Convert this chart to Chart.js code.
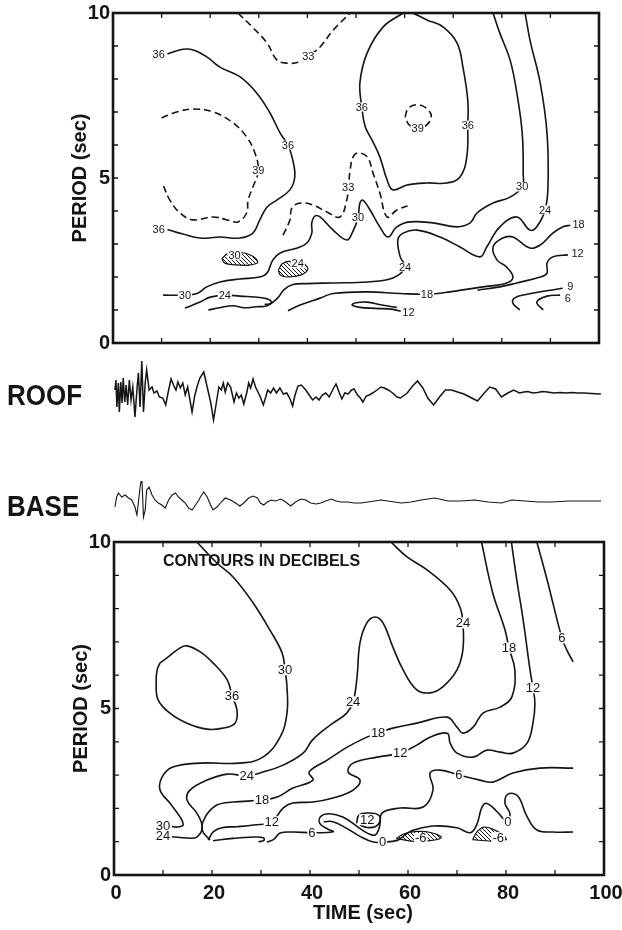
<!DOCTYPE html>
<html>
<head>
<meta charset="utf-8">
<title>Roof / base moving-window spectra</title>
<script src="https://cdn.jsdelivr.net/npm/chart.js@4.4.1/dist/chart.umd.min.js"></script>
<style>
  html, body { margin: 0; padding: 0; background: #fff; }
  #page { position: relative; width: 622px; height: 930px; overflow: hidden; }
  #page canvas { position: absolute; left: 0; }
  .trace-name {
    position: absolute; left: 7px; height: 26px; line-height: 26px;
    font: bold 26px 'Liberation Sans', Arial, sans-serif; color: #141414;
    transform: scaleY(1.16); transform-origin: left center;
  }
</style>
</head>
<body>
<div id="page">
  <canvas id="topPlot" width="622" height="360" style="top:0"></canvas>
  <canvas id="roofPlot" width="622" height="100" style="top:345px"></canvas>
  <canvas id="basePlot" width="622" height="80" style="top:455px"></canvas>
  <canvas id="lowPlot" width="622" height="400" style="top:530px"></canvas>
  <div class="trace-name" style="top:379px">ROOF</div>
  <div class="trace-name" style="top:490px">BASE</div>
</div>
<script>
const INK = "#141414";
const FONT = "'Liberation Sans', Arial, sans-serif";

// ---- axes ----
const timeTicks = [0, 10, 20, 30, 40, 50, 60, 70, 80, 90, 100];
const timeLabels = [0, 20, 40, 60, 80, 100];
const periodTicks = [0, 1, 2, 3, 4, 5, 6, 7, 8, 9, 10];
const periodLabels = [0, 5, 10];

// ---- upper panel contours: [time, period] ----
const up33a = [[25.7,10],[28.5,9.6],[31.7,9.09],[33.7,8.58],[35.8,8.48],[38.5,8.52],[40.1,8.67],[42.6,8.97],[45.3,9.48],[48.8,10]];
const up36a = [[11.2,8.76],[14.4,8.9],[16.5,8.88],[19.3,8.67],[22,8.36],[26.1,8.07],[29.6,7.57],[32.3,6.97],[34.4,6.36],[36,6.0],[37,5.54],[37.4,5.03],[36.4,4.64],[33.7,4.33],[31.7,4.12],[30.2,3.73],[28.8,3.33],[26.1,3.18],[22,3.21],[17.9,3.18],[14.4,3.3],[11.2,3.44]];
const up39a = [[10,6.82],[13.1,7.0],[16.5,7.09],[20.6,7.0],[24.7,6.67],[27.5,6.24],[29.2,5.76],[29.9,5.22],[28.8,4.73],[27.8,4.33],[27.5,3.94],[25.7,3.67],[23.5,3.73],[20.6,3.82],[16.5,3.73],[13.8,3.94],[11.7,4.33],[10.3,4.79]];
const up33b = [[35,3.27],[36.4,3.73],[36.8,4.09],[38.5,4.24],[41.2,4.18],[44,3.97],[46.7,3.82],[48.1,4.33],[48.4,4.7],[48.8,5.24],[49.4,5.64],[50.4,5.76],[52.3,5.64],[53.5,5.15],[54.9,4.55],[56.4,3.82],[58.4,4.03],[61.1,4.18]];
const up36b = [[59.7,10],[55.6,9.58],[52.3,8.79],[50.8,7.88],[51.2,7.15],[51.9,6.55],[53.3,6.15],[54.9,5.64],[56.4,4.94],[57.6,4.64],[60.5,4.79],[64.6,4.85],[68.7,4.85],[71.4,5.03],[72.8,5.64],[73,6.6],[73,7.36],[72,8.36],[70.8,9.09],[67.9,9.58],[64.6,9.79],[61.7,10]];
const up39b = [[60.1,6.85],[60.8,7.12],[62.8,7.22],[64.8,7.07],[65.5,6.85],[64.5,6.6],[62.8,6.5],[61,6.6],[60.1,6.85]];
const up30 = [[10.3,1.45],[14.8,1.45],[17.3,1.5],[19.3,1.7],[22,1.85],[26.1,1.94],[30.2,2.0],[31.7,2.12],[32.9,2.52],[34.4,2.73],[37.9,2.88],[39.9,3.03],[40.9,3.33],[40.9,3.64],[41.6,3.85],[42.6,3.82],[45.3,3.42],[48.1,3.12],[49.2,3.33],[50.4,3.79],[50.8,4.24],[51.4,4.33],[52.9,4.03],[54.9,3.52],[56.6,3.21],[58.4,3.52],[61.1,3.67],[65.8,3.64],[70.8,3.52],[73.5,3.64],[74.9,3.94],[78.2,4.24],[81.7,4.42],[84.2,4.73],[84.4,5.15],[84.2,6.36],[83.1,7.57],[81.7,8.58],[79.6,9.39],[78.2,10]];
const up24a = [[14.8,1.06],[17.9,1.24],[20,1.39],[23,1.45],[26.1,1.42],[30.2,1.38],[32.3,1.3],[32.5,1.2],[31.2,1.17]];
const up24b = [[19.6,1.0],[22,1.07],[24.7,1.13],[27,1.07],[29.5,1.1],[31.7,1.13],[33.8,1.35],[35.2,1.62],[37,1.77],[40,1.8],[45.3,1.82],[52.3,1.85],[57.6,1.97],[60.1,2.3],[59.1,2.61],[58.6,3.12],[59.7,3.33],[62.6,3.42],[67.3,3.21],[71.4,2.91],[75.5,2.61],[76.9,2.91],[79.6,3.52],[83.1,3.82],[85.8,3.42],[87.2,3.52],[88.9,4.03],[89.5,4.73],[89.3,6.36],[87.9,7.88],[85.8,9.18],[84.8,10]];
const up18 = [[36,0.98],[38.5,1.15],[42.6,1.36],[45.3,1.5],[52.3,1.55],[59.1,1.5],[64.6,1.48],[69.3,1.55],[76.1,1.7],[81,1.82],[82.3,2.0],[81,2.3],[79,2.52],[78.2,2.91],[80.2,3.18],[82.3,3.21],[85.8,2.88],[87.9,2.97],[90.5,3.33],[92.6,3.52],[94.1,3.57]];
const up12a = [[58.4,1.08],[55,1.16],[52.3,1.24],[50,1.22],[49.2,1.15],[50.8,1.08],[54,1.05],[57.6,1.02],[59.2,0.96]];
const up12b = [[75,1.6],[79.6,1.7],[83.1,1.82],[87.9,2.0],[89.3,2.12],[89.3,2.42],[90.5,2.61],[93.6,2.67]];
const up9 = [[83.7,1.0],[82.3,1.2],[82.6,1.36],[85,1.47],[90,1.6],[92.5,1.66]];
const up6 = [[88.5,1.0],[87.2,1.24],[89.3,1.42],[92,1.45]];
const upHatch30 = [[22.4,2.55],[23.5,2.7],[26,2.75],[28.5,2.65],[29.8,2.45],[28,2.36],[25,2.37],[23,2.42],[22.4,2.55]];
const upHatch24 = [[34,2.2],[34.8,2.4],[36.5,2.48],[39,2.42],[40.1,2.25],[39,2.08],[36,2.0],[34.5,2.05],[34,2.2]];
const upMarks = [[40.2,8.68,"33"],[9.4,8.74,"36"],[9.4,3.45,"36"],[36,6.0,"36"],[29.9,5.22,"39"],[48.4,4.72,"33"],
  [51.2,7.15,"36"],[73,6.6,"36"],[62.7,6.5,"39"],[14.8,1.45,"30"],[50.4,3.79,"30"],[84.2,4.73,"30"],
  [23,1.45,"24"],[60.1,2.3,"24"],[88.9,4.03,"24"],[64.6,1.48,"18"],[95.8,3.6,"18"],[60.8,0.94,"12"],
  [95.6,2.7,"12"],[94.1,1.7,"9"],[93.6,1.34,"6"],[25,2.66,"30"],[38,2.4,"24"]];

// ---- lower panel contours ----
const lo30 = [[16.9,10],[21,9.37],[24.3,8.95],[28.4,8.17],[31.8,7.36],[34.3,6.67],[34.9,6.16],[35.3,5.65],[35.3,4.86],[33.9,4.14],[30.4,3.54],[25.7,3.36],[17.6,3.36],[12,3.24],[9.8,2.94],[9.4,2.55],[11.4,2.16],[13.5,1.74],[14.1,1.5],[12.9,1.44],[11.8,1.46]];
const lo36 = [[9.4,6.37],[10.8,6.52],[13.5,6.82],[14.9,6.88],[17.6,6.7],[20.2,6.37],[23.1,5.86],[24.1,5.38],[25.1,4.95],[24.7,4.56],[22.2,4.41],[19,4.38],[14.9,4.56],[11.4,4.86],[9,5.26],[8.6,5.77],[8.8,6.16],[9.4,6.37]];
const lo24 = [[11.8,1.15],[14.9,1.11],[16.9,1.14],[18,1.44],[16.9,1.86],[14.9,2.25],[15.5,2.55],[19,2.85],[23.1,3.03],[27.1,2.98],[30.4,3.09],[34.5,3.3],[38.6,3.66],[40.3,4.02],[42,4.26],[44.7,4.56],[47.5,4.86],[48.8,5.2],[49.6,5.95],[50.2,6.97],[51.6,7.57],[53.3,7.75],[54.9,7.57],[56.9,6.85],[59,6.16],[61.8,5.56],[64.5,5.47],[67.1,5.65],[70,6.16],[71.2,6.76],[71.2,7.57],[70.6,8.05],[68.6,8.56],[63.9,9.16],[59.8,9.55],[56.5,10]];
const lo18 = [[19.6,1.05],[18,1.35],[18.6,1.74],[21,2.1],[24.3,2.19],[30.2,2.25],[33.3,2.34],[36.5,2.61],[40.6,2.85],[39.8,3.09],[43.5,3.45],[47.6,3.84],[51.6,4.14],[53.9,4.26],[56.9,4.41],[61.8,4.56],[68,4.74],[70,4.44],[71.2,4.26],[73.3,4.44],[75.3,4.86],[78.8,5.04],[81.2,5.35],[81.8,6.16],[80.6,6.82],[79.8,7.36],[77.3,8.47],[75,10]];
const lo12 = [[19.2,1.05],[20.3,1.3],[22,1.42],[25,1.45],[28.5,1.5],[32.2,1.6],[34.5,2.01],[36.5,2.16],[40.6,2.19],[44.7,2.31],[48.8,2.55],[50.2,2.85],[47.8,3.09],[48.8,3.36],[53.7,3.54],[58.4,3.66],[61.8,3.9],[64.5,4.14],[68,4.26],[68.6,3.96],[70,3.66],[73.3,3.54],[76.1,3.75],[78.8,3.69],[81.4,3.66],[84.3,3.96],[85.5,4.56],[85.9,5.16],[85.5,5.62],[84.9,6.16],[83.5,7.66],[82.2,8.86],[81.1,10]];
const lo12Loop = [[49.5,1.55],[50,1.8],[52,1.86],[54,1.8],[54.3,1.62],[53.3,1.45],[51.5,1.43],[50.2,1.5]];
const lo6Hook = [[20.2,1.03],[24.3,1.1],[28.4,1.14],[30.5,1.12],[30.6,1.04],[29.5,1.0]];
const lo6 = [[31.2,0.99],[32.6,1.07],[33.9,1.26],[36.5,1.29],[40.4,1.27],[44.7,1.3],[43.6,1.38],[42,1.55],[42.2,1.76],[44,1.84],[46.7,1.74],[49.6,1.46],[51.8,1.25],[53.3,1.2],[54.2,1.45],[54.7,1.86],[58.4,2.01],[63.1,2.04],[65.1,2.55],[64.5,3.06],[66.5,3.15],[70.4,3.0],[74.7,2.85],[77.3,2.79],[81.4,3.06],[86.9,3.21],[93.7,3.21]];
const lo0 = [[42.8,1.6],[44.7,1.6],[47.5,1.4],[50.2,1.16],[52.9,0.99],[54.8,0.99],[57.8,1.04],[59.5,1.22],[61,1.34],[65.1,1.47],[70,1.42],[72.7,1.27],[74,1.5],[75.1,2.04],[76.1,2.15],[78.2,1.9],[79.4,1.7],[80.4,1.6],[80.8,1.85],[79.8,2.15],[80.4,2.43],[82.4,2.37],[84.3,1.75],[86.3,1.35],[89.6,1.29],[93.7,1.29]];
const lo6Right = [[86.3,10],[88.4,8.86],[91.4,7.12],[92.4,6.76],[93.7,6.4]];
const loHatchA = [[57.6,1.1],[59.2,1.24],[62,1.31],[64.8,1.27],[66.8,1.13],[64.5,1.03],[60.5,1.02],[57.6,1.1]];
const loHatchB = [[73.2,1.06],[74.1,1.3],[75.5,1.44],[77.4,1.37],[79.4,1.2],[80,1.06],[77,1.02],[73.2,1.06]];
const loMarks = [[34.9,6.16,"30"],[10,1.47,"30"],[24.1,5.38,"36"],[10,1.17,"24"],[27.1,2.98,"24"],[48.8,5.2,"24"],
  [71.2,7.57,"24"],[30.2,2.25,"18"],[53.9,4.26,"18"],[80.6,6.82,"18"],[32.2,1.6,"12"],[58.4,3.66,"12"],
  [85.5,5.62,"12"],[51.7,1.66,"12"],[40.4,1.27,"6"],[70.4,3.0,"6"],[91.4,7.12,"6"],[54.8,0.99,"0"],
  [80.4,1.6,"0"],[62.6,1.1,"-6"],[78.4,1.12,"-6"]];

// ---- accelerograms: [time, amplitude] ----
const roofTrace = [[0.4,3],[0.6,13],[0.8,-14],[1.1,10],[1.3,-19],[1.6,11],[1.85,-10],[2.1,15],[2.4,-9],[2.7,8],[3.0,-12],[3.35,13],[3.7,-7],[4.05,6],[4.5,-24],[4.9,3],[5.2,20],[5.55,-14],[5.9,32],[6.25,-19],[6.6,10],[6.9,23],[7.4,3],[8.0,6],[8.4,0],[9.0,2],[9.5,-4],[10.2,-5],[10.8,-12],[11.4,3],[11.9,14],[12.4,8],[12.9,3],[13.3,11],[13.8,5],[14.3,10],[14.8,-2],[15.3,6],[15.7,-5],[16.2,-19],[16.7,-4],[17.2,6],[17.8,15],[18.6,21],[19.3,6],[20,-9],[20.6,-27],[21.2,-9],[21.7,6],[22.2,3],[22.6,10],[23,1],[23.5,10],[24.1,6],[24.8,-9],[25.3,0],[25.8,-5],[26.3,-2],[26.8,-11],[27.4,0],[27.8,10],[28.2,5],[28.7,14],[29.2,6],[29.7,1],[30.2,-4],[30.8,-12],[31.3,-4],[31.7,3],[32.3,0],[32.9,5],[33.5,0],[34.2,5],[34.9,-1],[35.6,0],[36.2,-5],[36.8,-13],[37.3,-2],[37.9,7],[38.6,8],[39.5,3],[40.2,-2],[40.9,-7],[41.6,-4],[42.2,-7],[42.9,-2],[43.6,0],[44.3,-4],[45,3],[45.7,9],[46.4,0],[46.9,-6],[47.5,0],[48.2,-1],[48.9,3],[49.4,4],[50.1,-2],[50.7,-5],[51.2,-9],[51.9,-3],[52.5,-2],[53.2,0],[54.1,3],[54.9,6],[55.6,5],[56.4,3],[57.3,0],[58.2,-4],[58.9,-5],[60.3,0],[61.4,7],[62.4,12],[63.5,5],[64.5,-5],[65.7,-12],[66.9,-4],[68.1,3],[69.4,3],[70.6,1],[71.9,-1],[73.5,-5],[74.7,-8],[75.9,-1],[77.2,6],[78.4,4],[79.6,-4],[80.9,0],[82.1,3],[83.3,0],[84.2,1],[85,1.5],[86,0],[87,0.5],[88,1.5],[89,1],[90.3,0],[91.6,0.5],[93,0],[94,0.5],[95.2,0],[96.5,0],[98,-0.5],[100,-1]];
const baseTrace = [[0.4,-6],[0.75,4],[1.1,8],[1.8,4],[2.5,6],[3.15,3],[3.85,1],[4.5,-6],[4.9,-14],[5.2,-2],[5.55,14],[5.9,24],[6.25,-16],[6.6,-9],[6.9,11],[7.4,14],[8.0,6],[8.6,1],[9.3,-2],[10,-4],[10.7,-7],[11.4,1],[12.1,6],[12.8,8],[13.4,4],[14.1,1],[14.8,-2],[15.5,-7],[16.2,-9],[16.9,-4],[17.6,1],[17.9,4],[18.6,9],[19.3,4],[20,-4],[20.5,-9],[21.3,-6],[22.2,-1],[23,3],[24.1,1],[25.1,-2],[26,-5],[26.8,-2],[27.8,3],[28.7,5],[29.6,3],[30.2,-2],[30.9,-4],[31.6,-1],[32.4,1],[33.3,0],[34.4,2],[35.4,-1],[36.4,-5],[37.4,-1],[38.5,2],[39.5,1],[40.5,-2],[41.6,-3],[42.6,-2],[43.6,0],[44.7,2],[45.7,0],[46.7,-1],[48.1,-1],[49.4,-2],[50.8,-2],[52.2,-1],[53.6,0],[54.9,1],[56.3,0],[57.7,-1],[59.1,-2],[61.1,-1],[63.2,1],[65.9,3],[68.7,0],[71.4,0],[74.1,1],[76.9,-1],[79.6,-2],[81.7,1],[84.4,0],[87.2,-1],[90,-1],[93.4,0],[100,0]];

Chart.defaults.font.family = FONT;

// diagonal hatching for the closed minima
const hatchTile = document.createElement("canvas");
hatchTile.width = 4; hatchTile.height = 4;
const hc = hatchTile.getContext("2d");
hc.strokeStyle = INK; hc.lineWidth = 1;
hc.beginPath();
hc.moveTo(0, 0); hc.lineTo(4, 4);
hc.moveTo(-1, 3); hc.lineTo(1, 5);
hc.moveTo(3, -1); hc.lineTo(5, 1);
hc.stroke();
const hatch = hc.createPattern(hatchTile, "repeat");

function contour(points, dashed) {
  return {
    data: points.map(([x, y]) => ({ x, y })),
    showLine: true, pointRadius: 0, fill: false,
    borderColor: INK, borderWidth: 1.6,
    borderDash: dashed ? [7, 4] : [],
    tension: 0.4
  };
}

function hatched(points) {
  return Object.assign(contour(points), { fill: "shape", backgroundColor: hatch, borderWidth: 1.2, tension: 0.35 });
}

function trace(points, width) {
  return {
    data: points.map(([x, y]) => ({ x, y })),
    showLine: true, pointRadius: 0, fill: false,
    borderColor: INK, borderWidth: width, tension: 0
  };
}

function options(padding, yMin, yMax) {
  return {
    responsive: false, animation: false, events: [],
    layout: { padding },
    plugins: { legend: { display: false }, tooltip: { enabled: false } },
    scales: {
      x: { type: "linear", display: false, min: 0, max: 100 },
      y: { type: "linear", display: false, min: yMin, max: yMax }
    }
  };
}

// frame, inward ticks, numbers, titles and the contour values
function panelDecor(marks, markSize, withTimeAxis, note) {
  return {
    id: "panelDecor",
    afterDatasetsDraw(chart) {
      const { ctx, chartArea: a, scales: { x, y } } = chart;
      ctx.save();
      ctx.textAlign = "center";
      ctx.textBaseline = "middle";
      ctx.font = `${markSize}px ${FONT}`;
      marks.forEach(([t, p, txt]) => {
        const px = x.getPixelForValue(t), py = y.getPixelForValue(p);
        const w = ctx.measureText(txt).width + 2;
        ctx.fillStyle = "#fff";
        ctx.fillRect(px - w / 2, py - markSize / 2 + 1, w, markSize - 2);
        ctx.fillStyle = INK;
        ctx.fillText(txt, px, py + 0.5);
      });

      ctx.strokeStyle = INK;
      ctx.lineWidth = 1.3;
      ctx.beginPath();
      timeTicks.forEach(v => {
        const px = x.getPixelForValue(v);
        ctx.moveTo(px, a.bottom); ctx.lineTo(px, a.bottom - 5);
        ctx.moveTo(px, a.top); ctx.lineTo(px, a.top + 5);
      });
      periodTicks.forEach(v => {
        const py = y.getPixelForValue(v);
        ctx.moveTo(a.left, py); ctx.lineTo(a.left + 5, py);
        ctx.moveTo(a.right, py); ctx.lineTo(a.right - 5, py);
      });
      ctx.stroke();
      ctx.lineWidth = 2.6;
      ctx.strokeRect(a.left, a.top, a.right - a.left, a.bottom - a.top);

      ctx.fillStyle = INK;
      ctx.font = `bold 20px ${FONT}`;
      ctx.textAlign = "right";
      periodLabels.forEach(v => ctx.fillText(String(v), a.left - 3, y.getPixelForValue(v)));

      ctx.save();
      ctx.translate(a.left - 33, (a.top + a.bottom) / 2);
      ctx.rotate(-Math.PI / 2);
      ctx.textAlign = "center";
      ctx.fillText("PERIOD (sec)", 0, 0);
      ctx.restore();

      if (withTimeAxis) {
        ctx.textAlign = "center";
        timeLabels.forEach(v => ctx.fillText(String(v), x.getPixelForValue(v) + 2, a.bottom + 18));
        ctx.fillText("TIME (sec)", x.getPixelForValue(50) + 4, a.bottom + 38);
      }
      if (note) {
        ctx.font = `bold 16px ${FONT}`;
        ctx.textAlign = "left";
        ctx.fillText(note.text, x.getPixelForValue(note.t), y.getPixelForValue(note.p));
      }
      ctx.restore();
    }
  };
}

new Chart(document.getElementById("topPlot"), {
  type: "scatter",
  data: {
    datasets: [
      contour(up33a, true), contour(up36a), contour(up39a, true), contour(up33b, true),
      contour(up36b), contour(up39b, true), contour(up30), contour(up24a), contour(up24b),
      contour(up18), contour(up12a), contour(up12b), contour(up9), contour(up6),
      hatched(upHatch30), hatched(upHatch24)
    ]
  },
  options: options({ left: 113, right: 23, top: 13, bottom: 17 }, 0, 10),
  plugins: [panelDecor(upMarks, 11, false, null)]
});

new Chart(document.getElementById("roofPlot"), {
  type: "scatter",
  data: { datasets: [trace(roofTrace, 1.5)] },
  options: options({ left: 113, right: 21, top: 8, bottom: 12 }, -40, 40)
});

new Chart(document.getElementById("basePlot"), {
  type: "scatter",
  data: { datasets: [trace(baseTrace, 1.1)] },
  options: options({ left: 113, right: 21, top: 26, bottom: 14 }, -20, 20)
});

new Chart(document.getElementById("lowPlot"), {
  type: "scatter",
  data: {
    datasets: [
      contour(lo30), contour(lo36), contour(lo24), contour(lo18), contour(lo12),
      contour(lo12Loop), contour(lo6Hook), contour(lo6), contour(lo0), contour(lo6Right),
      hatched(loHatchA), hatched(loHatchB)
    ]
  },
  options: options({ left: 114, right: 18, top: 12, bottom: 55 }, 0, 10),
  plugins: [panelDecor(loMarks, 13, true, { text: "CONTOURS IN DECIBELS", t: 10, p: 9.4 })]
});
</script>
</body>
</html>
